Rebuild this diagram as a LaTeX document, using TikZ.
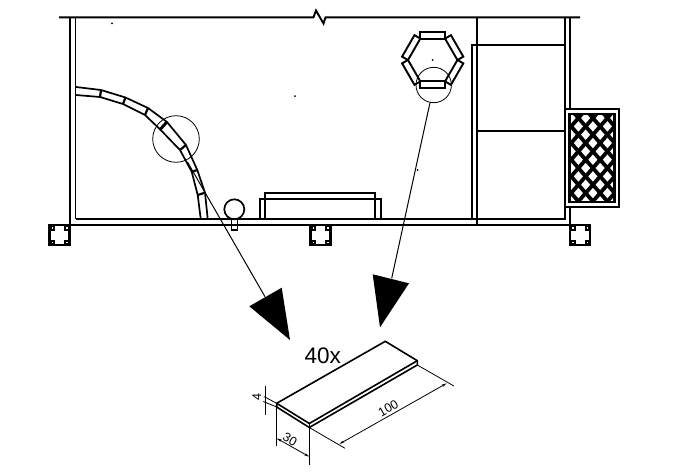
\documentclass[tikz,border=0pt]{standalone}
\usepackage{fontspec}
\setmainfont{Liberation Sans}
\usetikzlibrary{arrows.meta}
\tikzset{
  wall/.style={line width=1.9pt,black,line join=miter},
  wallthick/.style={line width=2.3pt,black},
  wallthin/.style={line width=1.6pt,black},
  furn/.style={line width=1.7pt,black},
  seat/.style={line width=1.9pt,black,fill=white},
  thinline/.style={line width=0.8pt,black},
  leader/.style={line width=1pt,black},
  dimline/.style={line width=0.8pt,black},
  dimarrow/.style={line width=0.8pt,black,{Stealth[length=5pt,width=2.4pt]}-{Stealth[length=5pt,width=2.4pt]}},
  plank/.style={line width=1.6pt,black,line join=round},
  dimtext/.style={font=\fontsize{12.5}{13}\selectfont,inner sep=0pt},
  headfill/.style={fill=black,draw=none},
  dotmark/.style={fill=black,draw=none,circle,minimum size=2pt,inner sep=0pt}
}
\newcommand{\postsq}[2]{%
  \begin{scope}[shift={(#1,#2)}]
    \draw[line width=2.2pt] (0,0) rectangle (20,20);
    \foreach \cx/\cy in {0/0,14.5/0,0/14.5,14.5/14.5}{
      \fill[black] (\cx,\cy) rectangle ++(5.5,5.5);
      \fill[white] (\cx+2,\cy+2) rectangle ++(1.6,1.6);
    }
  \end{scope}}
\begin{document}
\begin{tikzpicture}[x=1pt,y=-1pt]
\useasboundingbox (0,0) rectangle (678,475);
% top line with break
\draw[wall] (59,17.3) -- (313.5,17.3) -- (316,10.5) -- (323.5,23.5) -- (325.5,17.3) -- (580,17.3);
% left walls
\draw[wallthick] (70,17.3) -- (70,226);
\draw[wall] (75.5,17.3) -- (75.5,219);
% bottom walls
\draw[wallthick] (75.5,219) -- (565,219) -- (565,17.3);
\draw[wallthin] (68,224.8) -- (572,224.8);
\draw[wall] (570,17.3) -- (570,108);
\draw[wall] (570,207) -- (570,226);
% partitions
\draw[wallthin] (476.7,17.3) -- (476.7,225);
\draw[wall] (471.7,219) -- (471.7,45) -- (565,45);
\draw[wallthin] (476.7,131) -- (565,131);
% window
\draw[wall,fill=white] (565,108.7) rectangle (619.3,206.7);
\begin{scope}
  \clip (569.3,114) rectangle (614.3,201.7);
  \foreach \k in {-10,...,8}{
    \draw[line width=3.8pt] (577.2+\k*14.5,100) -- ++(95.7,110);
  }
  \foreach \k in {-5,...,12}{
    \draw[line width=3.8pt] (608.6+\k*14.5,100) -- ++(-95.7,110);
  }
\end{scope}
\draw[line width=2.4pt] (569.3,114) rectangle (614.3,201.7);
% arc of planks
\draw[line width=1.7pt,line join=round] (76,87) -- (101,90) -- (125.5,97.5) -- (148,108) -- (167,122) -- (186,145) -- (197.3,170) -- (205,192.7) -- (207.7,218.7);
\draw[line width=1.7pt,line join=round] (76,95) -- (100,97) -- (123,104) -- (145,115) -- (160,129.3) -- (180,150) -- (191.7,171.7) -- (197.7,195) -- (200.7,218.7);
\draw[line width=2.2pt] (101,90) -- (100,97) (125.5,97.5) -- (123,104) (148,108) -- (145,115) (186,145) -- (180,150) (197.3,170) -- (191.7,171.7) (205,192.7) -- (197.7,195);
\draw[line width=3pt] (166.5,122.5) -- (160.5,129);
% circles
\draw[thinline] (176,139) circle (23.3);
% sofa
\draw[furn] (259.7,218) -- (259.7,199.3) -- (380.7,199.3) -- (380.7,218);
\draw[furn] (264.7,218) -- (264.7,192.7) -- (375,192.7) -- (375,218);
% lamp
\draw[furn] (234.3,209.3) circle (10);
\draw[line width=1.5pt] (231.7,219.5) rectangle (237.7,230);
% hexagon of seats
\begin{scope}[shift={(432.7,60)}]
  \foreach \a in {0,60,...,300}{
    \draw[seat,rotate=\a] (-12.4,-28.2) rectangle (12.4,-21.4);
  }
\end{scope}
\draw[thinline] (433.7,85) circle (17.7);
% posts
\postsq{49.5}{225}
\postsq{310.5}{225}
\postsq{570}{225}
% dots
\node[dotmark] (d1) at (112,23.3) {};
\node[dotmark] (d2) at (432.7,60) {};
\node[dotmark] (d3) at (295,96) {};
\node[dotmark] (d4) at (417.7,170) {};
% leaders
\coordinate (l1a) at (187.5,162);
\coordinate (l1b) at (265,296.7);
\coordinate (l2a) at (430,102.7);
\coordinate (l2b) at (391.7,278.3);
\draw[leader] (l1a) -- (l1b);
\draw[leader] (l2a) -- (l2b);
\fill[headfill] (249.3,306.3) -- (281.7,287.7) -- (290,340) -- cycle;
\fill[headfill] (372.7,274.3) -- (409,283.3) -- (380,327.3) -- cycle;
% plank
\coordinate (A) at (276.7,403.3);
\coordinate (B) at (385.3,341.3);
\coordinate (C) at (417.3,360.7);
\coordinate (D) at (309.3,423.5);
\coordinate (Ab) at (276.7,407);
\coordinate (Db) at (309.3,427.5);
\coordinate (Cb) at (417.3,365);
\draw[plank] (A) -- (B) -- (C) -- (Cb) -- (Db) -- (Ab) -- cycle;
\draw[plank] (A) -- (D) -- (C);
\draw[plank] (D) -- (Db);
% dimensions
\draw[dimline] (A) -- (264.3,396.7);
\draw[dimline] (Ab) -- (263.3,401.5);
\draw[dimline] (265.7,385.7) -- (265.7,415);
\draw[dimline] (Ab) -- (276.7,446);
\draw[dimline] (Db) -- (309.3,465);
\draw[dimarrow] (276.7,438.3) -- (309.3,456.7);
\draw[dimline] (Cb) -- (454,386);
\draw[dimline] (Db) -- (345,448.3);
\draw[dimarrow] (339.3,444) -- (446.7,383.3);
\node[dimtext,rotate=90] (t4) at (256.7,397.3) {4};
\node[dimtext,rotate=-30] (t30) at (290,439.3) {30};
\node[dimtext,rotate=30] (t100) at (388.3,408.3) {100};
\node[font=\fontsize{22.5}{24}\selectfont,inner sep=0pt] (t40) at (322.7,356) {40x};
\end{tikzpicture}
\end{document}
